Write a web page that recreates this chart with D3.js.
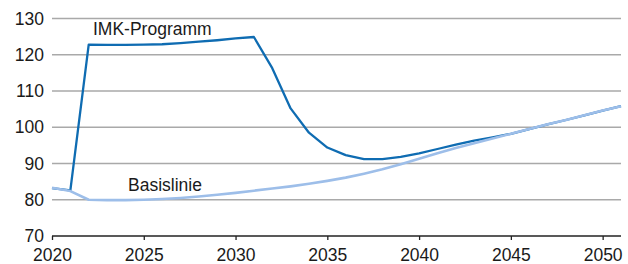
<!DOCTYPE html>
<html>
<head>
<meta charset="utf-8">
<script src="https://cdn.jsdelivr.net/npm/d3@7"></script>
<style>
  body { margin: 0; background: #fff; }
  svg text { font-family: "Liberation Sans", Arial, sans-serif; fill: #1a1a1a; }
</style>
</head>
<body>
<div id="chart"></div>
<script>
// years 2020..2051
const years = d3.range(2020, 2052);
const imk = [83.2, 82.6, 122.8, 122.7, 122.7, 122.8, 122.9, 123.2, 123.6, 124.0, 124.5, 124.9,
  116.3, 105.2, 98.5, 94.4, 92.3, 91.2, 91.2, 91.8, 92.8, 94.0, 95.2, 96.3, 97.2, 98.2,
  99.5, 100.8, 102.0, 103.3, 104.6, 105.8];
const basis = [83.3, 82.4, 80.0, 79.9, 79.9, 80.0, 80.2, 80.5, 80.9, 81.4, 81.9, 82.5,
  83.1, 83.7, 84.4, 85.2, 86.1, 87.2, 88.4, 89.8, 91.3, 92.8, 94.3, 95.6, 96.9, 98.2,
  99.5, 100.8, 102.0, 103.3, 104.6, 105.8];
const yTicks = [70, 80, 90, 100, 110, 120, 130];
const xTicks = [2020, 2025, 2030, 2035, 2040, 2045, 2050];

const width = 628, height = 264;
const plotLeft = 52, plotRight = 621, plotTop = 18.5, plotBottom = 236;
const fontSize = "17.5px";

const xScale = d3.scaleLinear().domain([2020, 2051]).range([plotLeft, plotRight]);
const yScale = d3.scaleLinear().domain([70, 130]).range([plotBottom, plotTop]);

const svg = d3.select("#chart").append("svg")
  .attr("width", width).attr("height", height);

// gridlines
svg.append("g")
  .selectAll("line")
  .data(yTicks.slice(1))
  .enter().append("line")
  .attr("x1", plotLeft).attr("x2", plotRight)
  .attr("y1", d => yScale(d)).attr("y2", d => yScale(d))
  .attr("stroke", "#a9a9a9").attr("stroke-width", 1.5);

// y labels
svg.append("g")
  .selectAll("text")
  .data(yTicks)
  .enter().append("text")
  .attr("x", 44).attr("y", d => yScale(d) + 6.2)
  .attr("text-anchor", "end")
  .style("font-size", fontSize)
  .text(d => d);

// x axis
const xAxis = d3.axisBottom(xScale).tickValues(xTicks).tickSize(4).tickPadding(8.5).tickFormat(d3.format("d"));
const gx = svg.append("g")
  .attr("transform", `translate(0, ${plotBottom})`)
  .call(xAxis);
gx.select(".domain").attr("stroke", "#222").attr("stroke-width", 1.5)
  .attr("d", `M${plotLeft},0H${plotRight}`);
gx.selectAll(".tick line").attr("stroke", "#222").attr("stroke-width", 1.3);
gx.selectAll(".tick text")
  .style("font-size", fontSize)
  .style("font-family", "'Liberation Sans', Arial, sans-serif")
  .attr("fill", "#1a1a1a");

const line = d3.line()
  .x((d, i) => xScale(years[i]))
  .y(d => yScale(d));

svg.append("path")
  .datum(imk)
  .attr("d", line)
  .attr("fill", "none")
  .attr("stroke", "#0f6cb2")
  .attr("stroke-width", 2.3)
  .attr("stroke-linejoin", "round");

svg.append("path")
  .datum(basis)
  .attr("d", line)
  .attr("fill", "none")
  .attr("stroke", "#9dbee9")
  .attr("stroke-width", 2.6)
  .attr("stroke-linejoin", "round");

svg.append("text")
  .attr("x", 93).attr("y", 35)
  .style("font-size", fontSize)
  .text("IMK-Programm");

svg.append("text")
  .attr("x", 128).attr("y", 190.5)
  .style("font-size", fontSize)
  .text("Basislinie");
</script>
</body>
</html>
